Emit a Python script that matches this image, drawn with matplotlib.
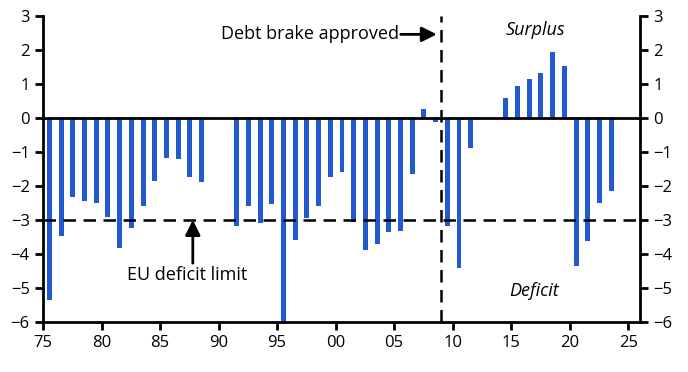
import numpy as np
import matplotlib
matplotlib.use("Agg")
import matplotlib.pyplot as plt

plt.rcParams['font.family'] = ['Open Sans', 'DejaVu Sans']

years = list(range(1975, 2024))
balance = [-5.35, -3.46, -2.32, -2.44, -2.50, -2.91, -3.82, -3.24, -2.59, -1.85,
           -1.18, -1.21, -1.74, -1.88, 0.0, 0.0, -3.18, -2.59, -3.09, -2.53,
           -6.0, -3.59, -2.94, -2.59, -1.74, -1.59, -3.06, -3.88, -3.71, -3.35,
           -3.32, -1.65, 0.26, -0.12, -3.18, -4.41, -0.88, 0.0, 0.0, 0.59,
           0.94, 1.15, 1.32, 1.94, 1.53, -4.35, -3.62, -2.50, -2.15]
xticks = list(range(1975, 2026, 5))
xlabels = ['75', '80', '85', '90', '95', '00', '05', '10', '15', '20', '25']
eu_limit = -3
debt_brake_year = 2009

fig = plt.figure(figsize=(6.88, 3.72), dpi=100)
ax = fig.add_axes([0.0625, 0.1344, 0.8675, 0.8226])

ax.bar(np.array(years) + 0.55, balance, width=0.42, color='#2159d0', zorder=2)
ax.axhline(0, color='black', lw=2, zorder=3)
ax.axhline(eu_limit, color='black', lw=1.8, ls=(0, (5, 3)), zorder=3)
ax.axvline(debt_brake_year, color='black', lw=1.8, ls=(0, (5, 3)), zorder=3)

ax.set_xlim(1975, 2026)
ax.set_ylim(-6, 3)
ax.set_xticks(xticks)
ax.set_xticklabels(xlabels)
ax.set_yticks(range(-6, 4))

for s in ['left', 'right', 'bottom']:
    ax.spines[s].set_linewidth(2)
ax.spines['top'].set_visible(False)
ax.tick_params(axis='both', direction='out', length=6, width=2, labelsize=12)
ax.tick_params(axis='y', right=True, labelright=True)

arrow = dict(arrowstyle='-|>,head_length=0.6,head_width=0.3', color='black', lw=2,
             mutation_scale=15, shrinkA=0, shrinkB=0)

ax.text(2017.05, 2.6, 'Surplus', style='italic', fontsize=13, ha='center', va='center')
ax.text(2017.0, -5.09, 'Deficit', style='italic', fontsize=13, ha='center', va='center')

ax.text(1987.3, -4.62, 'EU deficit limit', fontsize=13, ha='center', va='center')
ax.annotate('', xy=(1987.8, -3.0), xytext=(1987.8, -4.27), arrowprops=arrow)

ax.text(2005.4, 2.46, 'Debt brake approved', fontsize=13, ha='right', va='center')
ax.annotate('', xy=(2008.65, 2.46), xytext=(2005.57, 2.46), arrowprops=arrow)

fig.savefig('out.png', dpi=100)
